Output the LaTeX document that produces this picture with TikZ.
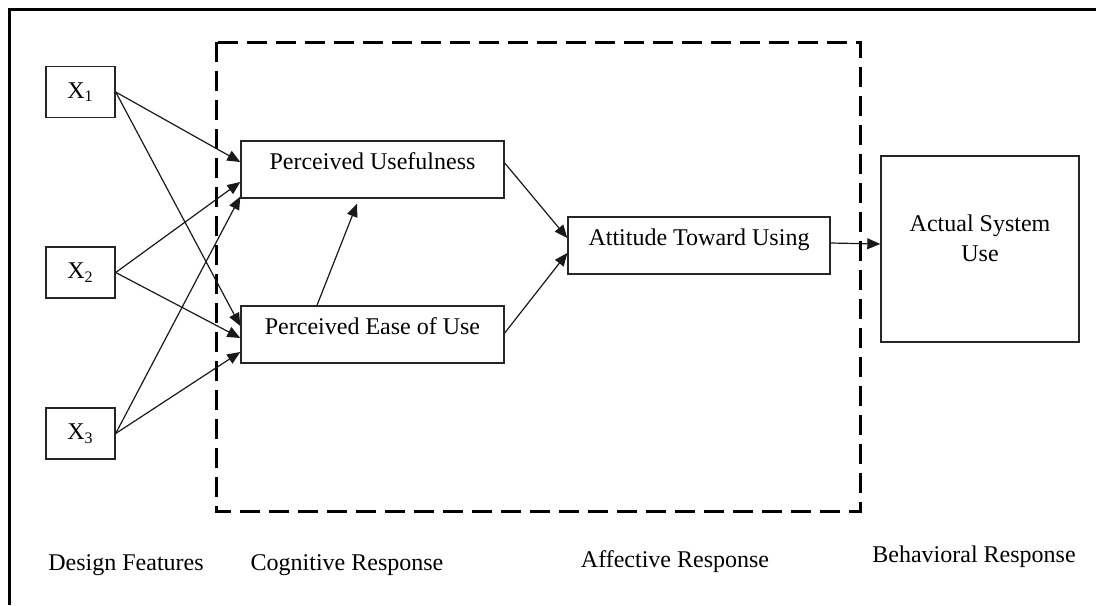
\documentclass[tikz,border=0pt]{standalone}
\usepackage{fontspec}
\setmainfont{Liberation Serif}
\usetikzlibrary{arrows.meta,calc}
\begin{document}
\begin{tikzpicture}[x=0.5pt,y=-0.5pt,
  box/.style={draw=black!85, line width=0.7pt, rectangle, inner sep=0pt, font=\fontsize{12}{14}\selectfont},
  wide/.style={box, minimum width=131.5pt, minimum height=28.5pt, text height=0pt, text depth=0pt},
  xbox/.style={box, minimum width=34.5pt, minimum height=25.5pt},
  link/.style={draw=black!90, line width=0.6pt, -{Triangle[length=6.5pt,width=5.4pt]}},
  lab/.style={font=\fontsize{12}{14}\selectfont, anchor=base, inner sep=0pt}
]
\useasboundingbox (0,0) rectangle (1096,605);
% outer frame (top and left)
\draw[line width=1.25pt] (9.5,605) -- (9.5,9.5) -- (1096,9.5);
% dashed region
\draw[line width=1.5pt, dash pattern=on 10pt off 4.5pt] (216,42) rectangle (860,511);

% design features
\node[xbox] (x1) at (80.5,92) {X\textsubscript{1}};
\node[xbox] (x2) at (80.5,272.5) {X\textsubscript{2}};
\node[xbox] (x3) at (80.5,433.5) {X\textsubscript{3}};

% cognitive
\node[wide] (pu) at (372.5,169.5) {Perceived Usefulness};
\node[wide] (peou) at (372.5,334.5) {Perceived Ease of Use};

% affective
\node[wide, minimum width=131pt] (atu) at (699,245.5) {Attitude Toward Using};

% behavioral
\node[box, minimum width=99pt, minimum height=93pt,
  label={[font=\fontsize{12}{15}\selectfont, align=center, inner sep=0pt, yshift=5.5pt]center:Actual System\\Use}] (asu) at (980,249) {};

% connectors
\draw[link] (x1.east) -- ($(pu.west)+(0,-7.5)$);
\draw[link] (x1.east) -- ($(peou.west)+(0,-8.5)$);
\draw[link] (x2.east) -- ($(pu.west)+(0,12.5)$);
\draw[link] (x2.east) -- ($(peou.west)+(0,3.5)$);
\draw[link] (x3.east) -- ($(pu.west)+(0,27)$);
\draw[link] (x3.east) -- ($(peou.west)+(0,17.5)$);
\draw[link] ($(peou.north)+(-55.5,0)$) -- ($(pu.south)+(-15.5,5)$);
\draw[link] ($(pu.east)+(0,-6.5)$) -- ($(atu.west)+(0,-7.5)$);
\draw[link] ($(peou.east)+(0,-1.5)$) -- ($(atu.west)+(0,7.5)$);
\draw[link] ($(atu.east)+(0,-2.5)$) -- ($(asu.west)+(0,-5)$);

% stage labels
\node[lab] (lbl1) at (126,570) {Design Features};
\node[lab] (lbl2) at (347,570) {Cognitive Response};
\node[lab] (lbl3) at (675,567) {Affective Response};
\node[lab] (lbl4) at (974,562) {Behavioral Response};
\end{tikzpicture}
\end{document}
